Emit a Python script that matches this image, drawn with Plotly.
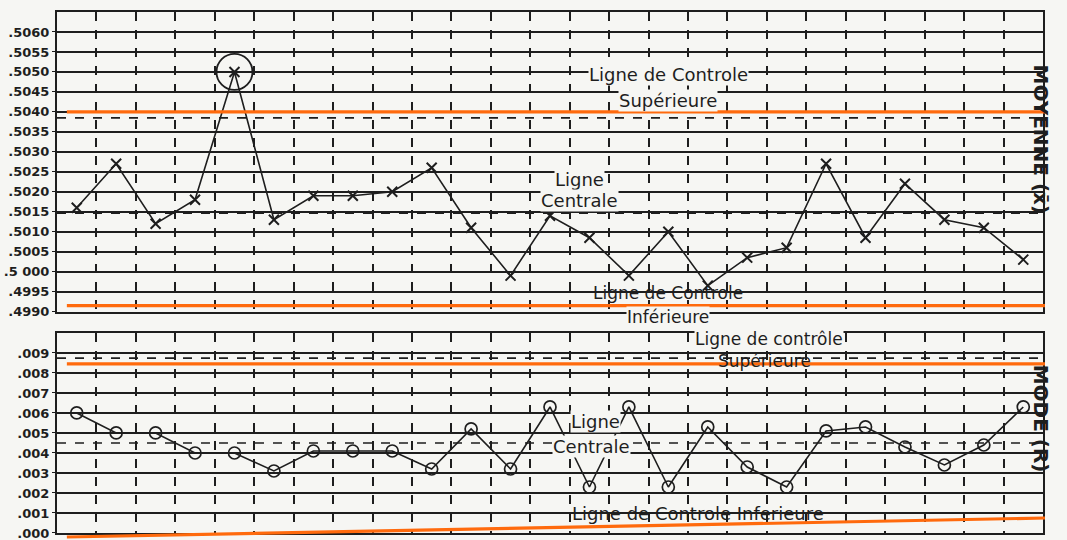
import plotly.graph_objects as go

# ---------------- data ----------------
samples = list(range(1, 26))
xbar = [0.5016, 0.5027, 0.5012, 0.5018, 0.5050, 0.5013, 0.5019, 0.5019, 0.5020, 0.5026,
        0.5011, 0.4999, 0.5014, 0.50085, 0.4999, 0.5010, 0.49965, 0.50035, 0.5006, 0.5027,
        0.50085, 0.5022, 0.5013, 0.5011, 0.5003]
ranges = [0.0060, 0.0050, 0.0050, 0.0040, 0.0040, 0.0031, 0.0041, 0.0041, 0.0041, 0.0032,
          0.0052, 0.0032, 0.0063, 0.0023, 0.0063, 0.0023, 0.0053, 0.0033, 0.0023, 0.0051,
          0.0053, 0.0043, 0.0034, 0.0044, 0.0063]
out_of_control = [5]

xbar_ticks = [0.4990 + 0.0005 * i for i in range(15)]
xbar_ticktext = [".4990", ".4995", ".5 000", ".5005", ".5010", ".5015", ".5020", ".5025",
                 ".5030", ".5035", ".5040", ".5045", ".5050", ".5055", ".5060"]
r_ticks = [0.001 * i for i in range(10)]
r_ticktext = [".000", ".001", ".002", ".003", ".004", ".005", ".006", ".007", ".008", ".009"]

# printed (black dashed) limits
xbar_ucl_print, xbar_cl_print = 0.50385, 0.50146
r_ucl_print, r_cl_print = 0.00874, 0.0045

# orange overlay limits
orange_x = [0.75, 25.55]
orange_xbar_ucl = [0.5040, 0.5040]
orange_xbar_lcl = [0.49915, 0.49915]
orange_r_ucl = [0.00845, 0.00845]
orange_r_lcl = [-0.0002, 0.00075]

X_RANGE = [0.5, 25.5]
XBAR_RANGE = [0.4990, 0.5065]
R_RANGE = [0.0, 0.010]

BG = "#f6f6f3"
INK = "#1e1e1e"
ORANGE = "#ff6a0d"
FONT = "DejaVu Sans"

fig = go.Figure()

# printed dashed limit lines
for y, ax in [(xbar_ucl_print, "y"), (xbar_cl_print, "y"), (r_ucl_print, "y2"), (r_cl_print, "y2")]:
    fig.add_trace(go.Scatter(x=X_RANGE, y=[y, y], mode="lines", xaxis="x" if ax == "y" else "x2",
                             yaxis=ax, line=dict(color=INK, width=1.6, dash="dash"),
                             hoverinfo="skip", showlegend=False))

# X-bar series
fig.add_trace(go.Scatter(x=samples, y=xbar, mode="lines+markers", xaxis="x", yaxis="y",
                         line=dict(color=INK, width=1.6),
                         marker=dict(symbol="x-thin", size=10, color=INK, line=dict(color=INK, width=2)),
                         showlegend=False))
fig.add_trace(go.Scatter(x=out_of_control, y=[xbar[i - 1] for i in out_of_control],
                         mode="markers", xaxis="x", yaxis="y",
                         marker=dict(symbol="circle-open", size=36, color=INK,
                                     line=dict(color=INK, width=1.8)),
                         showlegend=False))

# R series
fig.add_trace(go.Scatter(x=samples, y=ranges, mode="lines+markers", xaxis="x2", yaxis="y2",
                         line=dict(color=INK, width=1.6),
                         marker=dict(symbol="circle-open", size=12, color=INK,
                                     line=dict(color=INK, width=1.7)),
                         showlegend=False))

# orange overlay lines (domain-referenced so they can run past the frame like the marker pen)
def fx(v):
    return (v - X_RANGE[0]) / (X_RANGE[1] - X_RANGE[0])

def fy(v, rng):
    return (v - rng[0]) / (rng[1] - rng[0])

for ys, xr, yr, rng in [(orange_xbar_ucl, "x domain", "y domain", XBAR_RANGE),
                        (orange_xbar_lcl, "x domain", "y domain", XBAR_RANGE),
                        (orange_r_ucl, "x2 domain", "y2 domain", R_RANGE),
                        (orange_r_lcl, "x2 domain", "y2 domain", R_RANGE)]:
    fig.add_shape(type="line", xref=xr, yref=yr, x0=fx(orange_x[0]), x1=fx(orange_x[1]),
                  y0=fy(ys[0], rng), y1=fy(ys[1], rng), layer="above",
                  line=dict(color=ORANGE, width=3.2))

xcommon = dict(range=X_RANGE, tick0=0.5, dtick=1, showticklabels=False, ticks="",
               showgrid=True, gridcolor=INK, gridwidth=1.8, griddash="dash", zeroline=False,
               showline=True, linecolor=INK, linewidth=2, mirror=True, automargin=False)
ycommon = dict(showgrid=True, gridcolor=INK, gridwidth=1.8, zeroline=False, ticks="outside",
               ticklen=3, tickcolor=INK, showline=True, linecolor=INK, linewidth=2, mirror=True,
               automargin=False, ticklabeloverflow="allow",
               tickfont=dict(family=FONT, size=13, color=INK, weight="bold"))

fig.update_layout(
    width=1067, height=540,
    margin=dict(l=57, r=24, t=12, b=7),
    paper_bgcolor=BG, plot_bgcolor=BG,
    showlegend=False,
    xaxis=dict(domain=[0, 1], anchor="y", **xcommon),
    yaxis=dict(domain=[0.425, 1], anchor="x", range=XBAR_RANGE,
               tickvals=xbar_ticks, ticktext=xbar_ticktext, **ycommon),
    xaxis2=dict(domain=[0, 1], anchor="y2", **xcommon),
    yaxis2=dict(domain=[0, 0.384], anchor="x2", range=R_RANGE,
                tickvals=r_ticks, ticktext=r_ticktext, **ycommon),
    font=dict(family=FONT, color=INK),
)

def label(text, x, y, xref="x", yref="y", size=18, bg=True):
    fig.add_annotation(text=text, x=x, y=y, xref=xref, yref=yref, showarrow=False,
                       font=dict(family=FONT, size=size, color=INK),
                       bgcolor=BG if bg else "rgba(0,0,0,0)", borderpad=0)

# top panel labels
label("Ligne de Controle", 16.0, 0.50494)
label("Supérieure", 16.0, 0.50429)
label("Ligne", 13.74, 0.50231)
label("Centrale", 13.74, 0.50178)
label("Ligne de Controle", 16.0, 0.49946, size=17, bg=False)
label("Inférieure", 16.0, 0.4146, "x", "paper", size=17)
# bottom panel labels
label("Ligne de contrôle", 18.55, 0.00968, "x2", "y2", size=17)
label("Supérieure", 18.45, 0.00862, "x2", "y2", size=17, bg=False)
label("Ligne", 14.15, 0.00555, "x2", "y2")
label("Centrale", 14.05, 0.00430, "x2", "y2")
label("Ligne de Controle Inferieure", 16.75, 0.00095, "x2", "y2", bg=False)

# side titles
fig.add_annotation(text="<b>MOYENNE (x̄)</b>", x=1.0125, y=0.5033, xref="paper", yref="y",
                   textangle=90, showarrow=False, font=dict(family=FONT, size=20, color=INK))
fig.add_annotation(text="<b>MODE (R)</b>", x=1.0125, y=0.0057, xref="paper", yref="y2",
                   textangle=90, showarrow=False, font=dict(family=FONT, size=20, color=INK))

fig.write_html("out.html", config={"displayModeBar": False},
               post_script="document.body.style.margin='0px';")
